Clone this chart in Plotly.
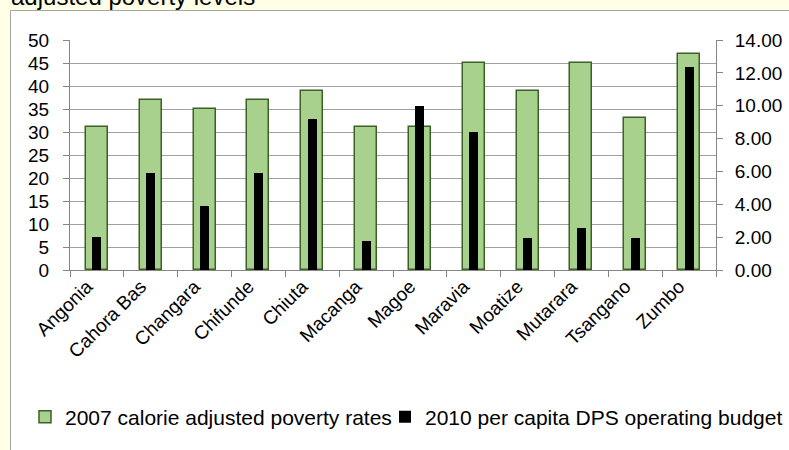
import plotly.graph_objects as go

# District data
districts = ["Angonia", "Cahora Bas", "Changara", "Chifunde", "Chiuta", "Macanga",
             "Magoe", "Maravia", "Moatize", "Mutarara", "Tsangano", "Zumbo"]
poverty_2007 = [31, 37, 35, 37, 39, 31, 31, 45, 39, 45, 33, 47]
dps_budget_2010 = [2.0, 5.9, 3.9, 5.9, 9.2, 1.75, 10.0, 8.4, 1.95, 2.55, 1.95, 12.35]

left_ticks = list(range(0, 51, 5))
right_ticks = list(range(0, 15, 2))

poverty_name = "2007 calorie adjusted poverty rates"
budget_name = "2010 per capita DPS operating budget"
title_text = "adjusted poverty levels"

FONT = "Liberation Sans, Arial, sans-serif"
AXIS_GREY = "#868686"
GRID_GREY = "#A0A0A0"

W, H = 789, 450
L, R, T, B = 70, 73, 40, 180
pw, ph = W - L - R, H - T - B


def px_x(x):
    return (x - L) / pw


def px_y(y):
    return (H - B - y) / ph


fig = go.Figure()

fig.add_trace(go.Bar(
    x=districts, y=poverty_2007, name=poverty_name, yaxis="y",
    width=0.41, legend="legend",
    marker=dict(color="#A9D18E", line=dict(color="#3B6124", width=1.5)),
))
fig.add_trace(go.Bar(
    x=districts, y=dps_budget_2010, name=budget_name, yaxis="y2",
    width=0.17, legend="legend2",
    marker=dict(color="#000000", line=dict(width=0)),
))

legend_common = dict(
    orientation="h",
    xanchor="left",
    y=px_y(417), yanchor="middle",
    font=dict(family=FONT, size=21, color="#000000"),
    bgcolor="rgba(0,0,0,0)",
    itemclick=False, itemdoubleclick=False,
)

fig.update_layout(
    width=W, height=H,
    margin=dict(l=L, r=R, t=T, b=B, autoexpand=False),
    paper_bgcolor="#FFFFE6",
    plot_bgcolor="#FFFFFF",
    barmode="overlay",
    bargap=0,
    font=dict(family=FONT, size=19, color="#000000"),
    showlegend=True,
    legend=dict(x=px_x(25), **legend_common),
    legend2=dict(x=px_x(385), **legend_common),
    xaxis=dict(
        type="category",
        tickangle=-45,
        showgrid=False,
        showline=True, linecolor=AXIS_GREY, linewidth=1,
        ticks="outside", ticklen=6, tickcolor=AXIS_GREY,
        tickson="boundaries",
        ticklabelshift=-10,
        ticklabelstandoff=-3,
        tickfont=dict(family=FONT, size=19),
        automargin=False,
        range=[-0.5, len(districts) - 0.5],
    ),
    yaxis=dict(
        range=[0, 50],
        tickvals=left_ticks,
        showgrid=True, gridcolor=GRID_GREY, gridwidth=1,
        showline=True, linecolor=AXIS_GREY, linewidth=1,
        ticks="outside", ticklen=6, tickcolor=AXIS_GREY,
        ticklabelstandoff=10,
        zeroline=False,
        tickfont=dict(family=FONT, size=19),
        automargin=False,
    ),
    yaxis2=dict(
        range=[0, 14],
        tickvals=right_ticks,
        tickformat=".2f",
        overlaying="y", side="right",
        showgrid=False,
        showline=True, linecolor=AXIS_GREY, linewidth=1,
        ticks="outside", ticklen=6, tickcolor=AXIS_GREY,
        ticklabelstandoff=8,
        zeroline=False,
        tickfont=dict(family=FONT, size=19),
        automargin=False,
    ),
    shapes=[dict(
        type="rect", xref="paper", yref="paper",
        x0=px_x(10.5), x1=px_x(W + 20),
        y0=px_y(H + 20), y1=px_y(10.5),
        line=dict(color="#A6A6A6", width=1),
        fillcolor="#FFFFFF",
        layer="below",
    )],
    annotations=[dict(
        text=title_text,
        xref="paper", yref="paper",
        x=px_x(9), xanchor="left",
        y=px_y(12), yanchor="bottom",
        showarrow=False,
        font=dict(family=FONT, size=24, color="#000000"),
    )],
)

fig.write_html("out.html")
